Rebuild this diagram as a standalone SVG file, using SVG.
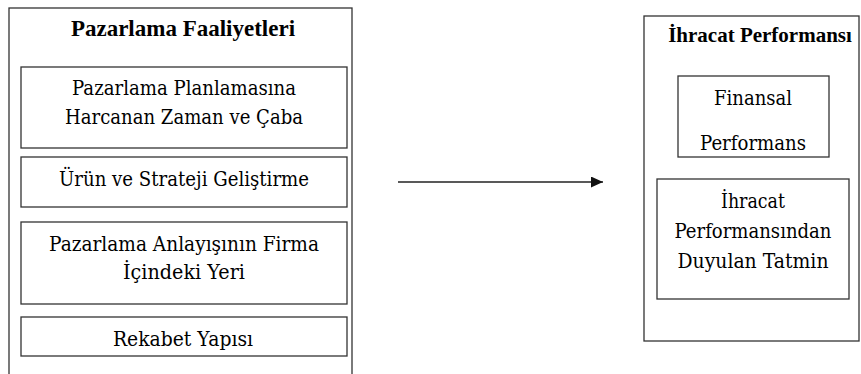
<svg xmlns="http://www.w3.org/2000/svg" width="861" height="374" viewBox="0 0 861 374">
<style>
.box{fill:none;stroke:#333;stroke-width:1.3}
.conn{fill:none;stroke:#222;stroke-width:1.3}
.t{font-family:"DejaVu Serif","Liberation Serif",serif;font-size:20px;fill:#000;text-anchor:middle}
.h{font-family:"Liberation Serif","Times New Roman",serif;font-weight:bold;fill:#000;text-anchor:middle}
</style>
<defs>
<marker id="ah" viewBox="0 0 12 11" refX="12" refY="5.5" markerWidth="12" markerHeight="11" markerUnits="userSpaceOnUse" orient="auto">
<path d="M0,0 L12,5.5 L0,11 Z" fill="#111"/>
</marker>
</defs>
<rect width="861" height="374" fill="#fff"/>
<g id="pazarlama-faaliyetleri">
<rect class="box" x="9" y="8" width="343" height="420"/>
<text class="h" x="183" y="36" font-size="23">Pazarlama Faaliyetleri</text>
</g>
<g id="planlama">
<rect class="box" x="21" y="67" width="326" height="81"/>
<text class="t" x="184" y="95" textLength="224" lengthAdjust="spacingAndGlyphs">Pazarlama Planlamasına</text>
<text class="t" x="184" y="124" textLength="238" lengthAdjust="spacingAndGlyphs">Harcanan Zaman ve Çaba</text>
</g>
<g id="urun-strateji">
<rect class="box" x="21" y="157" width="326" height="50"/>
<text class="t" x="184" y="186" textLength="250" lengthAdjust="spacingAndGlyphs">Ürün ve Strateji Geliştirme</text>
</g>
<g id="anlayis">
<rect class="box" x="21" y="222" width="326" height="82"/>
<text class="t" x="184" y="251" textLength="270" lengthAdjust="spacingAndGlyphs">Pazarlama Anlayışının Firma</text>
<text class="t" x="184" y="279" textLength="122" lengthAdjust="spacingAndGlyphs">İçindeki Yeri</text>
</g>
<g id="rekabet">
<rect class="box" x="21" y="317" width="326" height="39"/>
<text class="t" x="183" y="346" textLength="140" lengthAdjust="spacingAndGlyphs">Rekabet Yapısı</text>
</g>
<g id="ihracat-performansi">
<rect class="box" x="644" y="16" width="215" height="325"/>
<text class="h" x="760" y="42" font-size="21">İhracat Performansı</text>
</g>
<g id="finansal">
<rect class="box" x="678" y="76" width="151" height="81"/>
<text class="t" x="753" y="105" textLength="78" lengthAdjust="spacingAndGlyphs">Finansal</text>
<text class="t" x="753" y="150" textLength="106" lengthAdjust="spacingAndGlyphs">Performans</text>
</g>
<g id="tatmin">
<rect class="box" x="657" y="179" width="192" height="120"/>
<text class="t" x="753" y="208" textLength="64" lengthAdjust="spacingAndGlyphs">İhracat</text>
<text class="t" x="753" y="238" textLength="157" lengthAdjust="spacingAndGlyphs">Performansından</text>
<text class="t" x="753" y="268" textLength="151" lengthAdjust="spacingAndGlyphs">Duyulan Tatmin</text>
</g>
<g id="connectors">
<line class="conn" x1="398" y1="182" x2="603" y2="182" marker-end="url(#ah)"/>
</g>
</svg>
